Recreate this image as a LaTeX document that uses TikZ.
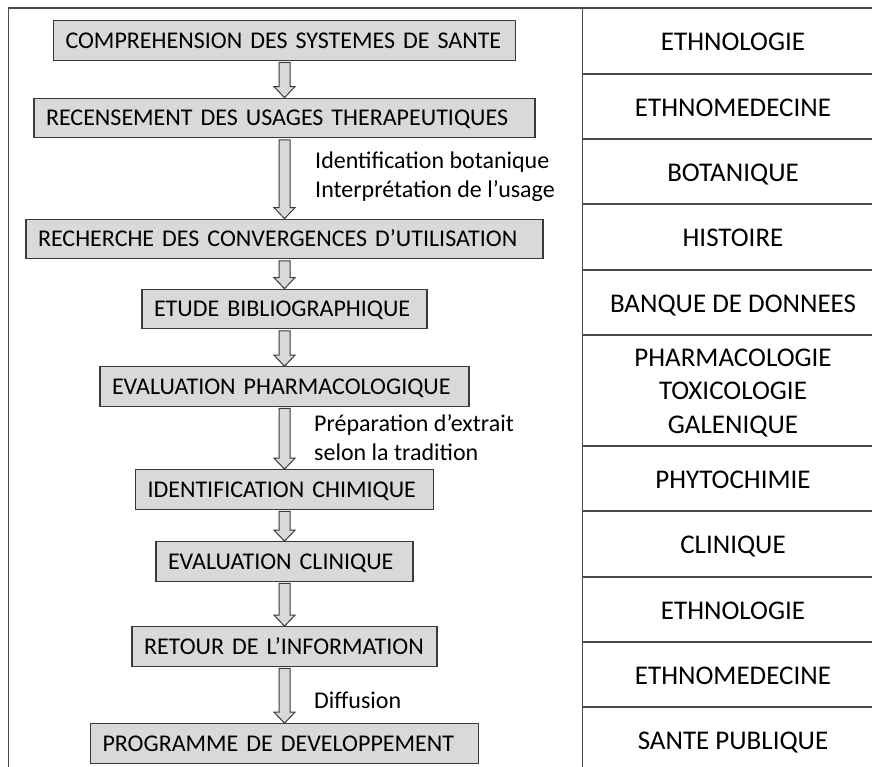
\documentclass[tikz,border=0pt]{standalone}
\usepackage{fontspec}
\setmainfont{Carlito}
\usetikzlibrary{calc}
\definecolor{boxgray}{HTML}{D9D9D9}
\definecolor{edgegray}{HTML}{3A3A3A}
\definecolor{framegray}{HTML}{4A4A4A}
\tikzset{
  stagebox/.style={draw=edgegray, line width=1.2pt, fill=boxgray, minimum height=39.5pt,
    inner xsep=12pt, inner ysep=0pt, text height=15.5pt, text depth=0pt,
    align=left, font=\fontsize{24}{29}\selectfont},
  fieldlbl/.style={font=\fontsize{27}{33.3}\selectfont, align=center, inner sep=0pt, anchor=base},
  notelbl/.style={font=\fontsize{24}{29}\selectfont, align=left, inner sep=0pt, anchor=base west},
  blockarr/.style={draw=edgegray, line width=1pt, fill=boxgray, line join=miter},
  framel/.style={draw=framegray, line width=1.1pt},
}
\begin{document}
\begin{tikzpicture}[x=1pt, y=-1pt]
  \useasboundingbox (0,0) rectangle (872,767);
  % table on the right
  \draw[framel] (8.5,8) rectangle (884,773);
  \draw[framel] (582.5,8) -- (582.5,773);
  \foreach \y in {74,139,204,270,335,446,511,577,642,707}
    \draw[framel] (582.5,\y) -- (884,\y);
  % base of a label = baseline of its last line
  \foreach \y/\t [count=\i] in {50.7/ETHNOLOGIE, 116.2/ETHNOMEDECINE, 181.2/BOTANIQUE,
      246.7/HISTOIRE, 312.2/BANQUE DE DONNEES, 433.2/{PHARMACOLOGIE\\TOXICOLOGIE\\GALENIQUE},
      488.2/PHYTOCHIMIE, 553.7/CLINIQUE, 619.2/ETHNOLOGIE, 684.2/ETHNOMEDECINE,
      749.7/SANTE PUBLIQUE}
    \node[fieldlbl] (f\i) at (733,\y) {\t};
  % steps
  \node[stagebox, text width=438pt] (s1) at (284.5,40.5) {COMPREHENSION DES SYSTEMES DE SANTE};
  \node[stagebox, text width=477pt] (s2) at (284.5,118) {RECENSEMENT DES USAGES THERAPEUTIQUES};
  \node[stagebox, text width=493pt] (s3) at (284.5,239) {RECHERCHE DES CONVERGENCES D’UTILISATION};
  \node[stagebox, text width=261pt] (s4) at (284.5,309) {ETUDE BIBLIOGRAPHIQUE};
  \node[stagebox, text width=345pt] (s5) at (284.5,386.5) {EVALUATION PHARMACOLOGIQUE};
  \node[stagebox, text width=274pt] (s6) at (284.5,489.5) {IDENTIFICATION CHIMIQUE};
  \node[stagebox, text width=233pt] (s7) at (284.5,561.5) {EVALUATION CLINIQUE};
  \node[stagebox, text width=281pt] (s8) at (284.5,646.5) {RETOUR DE L’INFORMATION};
  \node[stagebox, text width=364pt] (s9) at (284.5,743.5) {PROGRAMME DE DEVELOPPEMENT};
  % block arrows
  \foreach \a/\b in {s1/s2, s2/s3, s3/s4, s4/s5, s5/s6, s6/s7, s7/s8, s8/s9}
    \draw[blockarr] let \p1=(\a.south), \p2=(\b.north) in
      (\x1-5.5pt,\y1-1.5pt) -- (\x1+5.5pt,\y1-1.5pt) -- (\x1+5.5pt,\y2+11pt)
      -- (\x1+10.5pt,\y2+11pt) -- (\x1,\y2) -- (\x1-10.5pt,\y2+11pt)
      -- (\x1-5.5pt,\y2+11pt) -- cycle;
  % notes beside the arrows
  \node[notelbl] (n1) at (315,198) {Identification botanique\\Interprétation de l’usage};
  \node[notelbl] (n2) at (314,460) {Préparation d’extrait\\selon la tradition};
  \node[notelbl] (n3) at (314,708) {Diffusion};
\end{tikzpicture}
\end{document}
